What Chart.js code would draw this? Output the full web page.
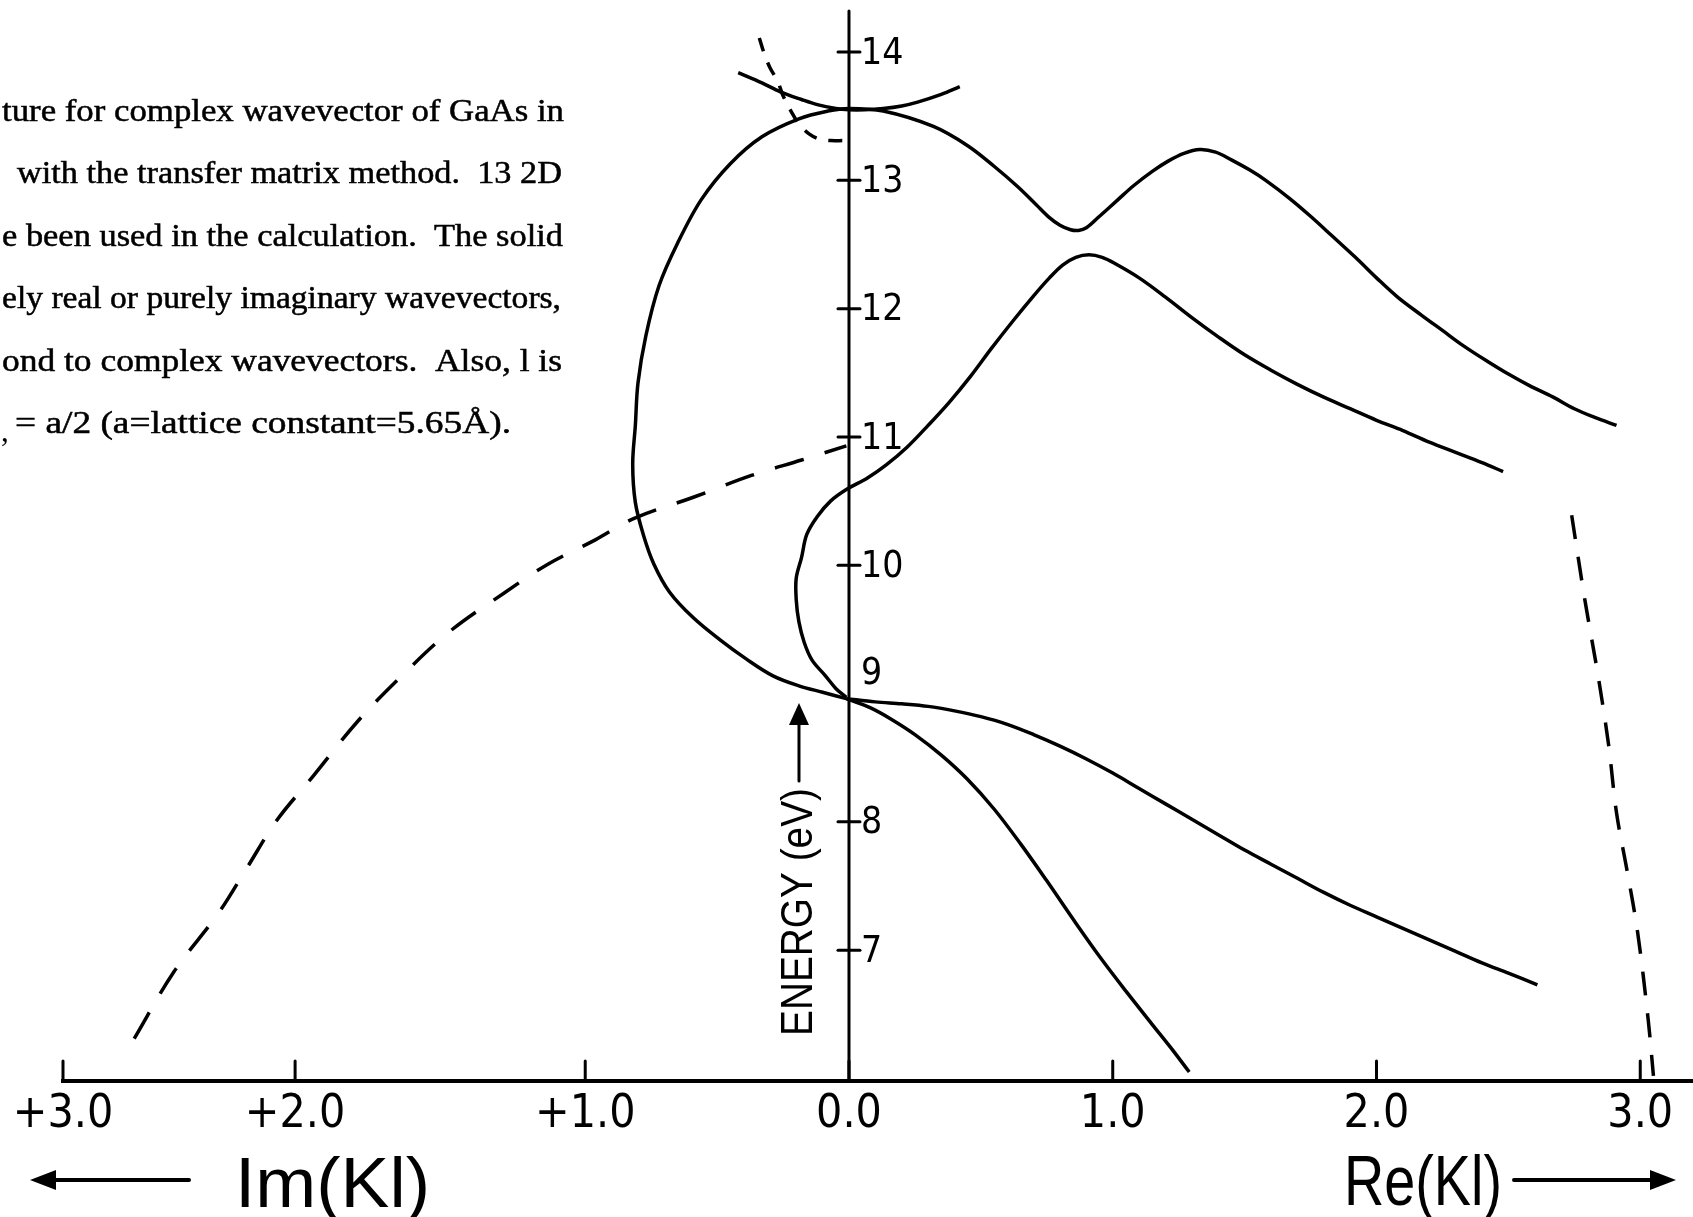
<!DOCTYPE html>
<html>
<head>
<meta charset="utf-8">
<title>Complex band structure of GaAs</title>
<script src="https://cdn.jsdelivr.net/npm/chart.js@4.4.1/dist/chart.umd.min.js"></script>
<style>
  html, body { margin: 0; padding: 0; background: #fff; }
  #wrap { width: 1693px; height: 1217px; }
</style>
</head>
<body>
<div id="wrap"><canvas id="bands" width="1693" height="1217"></canvas></div>
<script>
// --- DATOS: k en unidades de 1/l (Im a la izquierda), energia en eV ---

// lazo imaginario grande + banda real superior
const loopK = [-0.01,-0.10,-0.19,-0.29,-0.39,-0.49,-0.59,-0.68,-0.74,-0.78,-0.81,-0.82,-0.81,-0.80,-0.77,-0.72,-0.65,-0.56,-0.45,-0.33,-0.19,-0.08,0.00,0.13,0.32,0.45,0.55,0.64,0.71,0.76,0.80,0.84,0.87,0.90,0.95,1.02,1.08,1.15,1.21,1.27,1.33,1.39,1.45,1.52,1.58,1.67,1.75,1.83,1.92,2.00,2.08,2.17,2.25,2.33,2.42,2.50,2.58,2.67,2.75,2.83,2.91];
const loopE = [8.96,9.01,9.06,9.14,9.27,9.42,9.59,9.79,10.01,10.24,10.49,10.79,11.09,11.42,11.79,12.18,12.51,12.85,13.13,13.34,13.48,13.54,13.56,13.54,13.42,13.27,13.11,12.95,12.81,12.71,12.65,12.615,12.61,12.63,12.72,12.85,12.96,13.07,13.15,13.21,13.24,13.22,13.16,13.08,13.00,12.86,12.72,12.57,12.40,12.24,12.09,11.95,11.83,11.71,11.59,11.49,11.40,11.31,11.22,11.15,11.09];

// arco superior (valle en k=0)
const topK = [-0.42,-0.33,-0.26,-0.18,-0.12,-0.05,0.00,0.06,0.13,0.20,0.26,0.35,0.42];
const topE = [13.84,13.76,13.69,13.63,13.59,13.56,13.55,13.55,13.56,13.58,13.61,13.67,13.73];

// lazo pequeño + banda real intermedia
const midK = [-0.01,-0.05,-0.09,-0.14,-0.17,-0.19,-0.20,-0.20,-0.18,-0.16,-0.12,-0.07,-0.01,0.07,0.14,0.22,0.30,0.38,0.46,0.54,0.62,0.70,0.76,0.81,0.86,0.91,0.96,1.01,1.10,1.20,1.30,1.40,1.50,1.60,1.70,1.80,1.90,2.00,2.10,2.20,2.30,2.40,2.48];
const midE = [8.97,9.04,9.14,9.26,9.40,9.56,9.73,9.90,10.06,10.24,10.38,10.50,10.59,10.68,10.78,10.92,11.09,11.27,11.47,11.69,11.90,12.10,12.24,12.34,12.40,12.42,12.40,12.35,12.24,12.09,11.93,11.78,11.64,11.52,11.41,11.31,11.22,11.13,11.05,10.96,10.88,10.80,10.73];

// bandas reales por debajo de 9 eV
const lowK = [-0.01,0.10,0.20,0.30,0.40,0.50,0.60,0.70,0.80,0.90,1.00,1.10,1.20,1.30,1.40,1.50,1.60,1.70,1.80,1.90,2.00,2.10,2.20,2.30,2.40,2.50,2.61];
const lowE = [8.96,8.935,8.92,8.90,8.865,8.82,8.76,8.68,8.59,8.49,8.38,8.26,8.14,8.02,7.90,7.78,7.67,7.56,7.45,7.35,7.26,7.17,7.08,6.99,6.90,6.82,6.73];
const steepK = [-0.01,0.08,0.16,0.25,0.35,0.45,0.55,0.65,0.75,0.85,0.95,1.05,1.15,1.22,1.29];
const steepE = [8.96,8.89,8.80,8.68,8.52,8.33,8.10,7.83,7.54,7.24,6.95,6.68,6.42,6.24,6.05];

// vectores complejos (lineas a trazos)
const cplxImK = [-2.71,-2.56,-2.39,-2.28,-2.17,-2.03,-1.86,-1.69,-1.51,-1.31,-1.14,-0.96,-0.81,-0.59,-0.37,-0.18,-0.01];
const cplxImE = [6.31,6.83,7.29,7.65,8.01,8.36,8.79,9.15,9.49,9.78,10.01,10.20,10.37,10.53,10.70,10.82,10.93];
const cplxReK = [2.74,2.79,2.84,2.88,2.91,2.95,2.99,3.03,3.05];
const cplxReE = [10.39,9.73,9.14,8.60,8.07,7.62,7.14,6.46,6.02];
const cplxTopK = [-0.34,-0.32,-0.30,-0.27,-0.25,-0.22,-0.19,-0.15,-0.11,-0.07,-0.02];
const cplxTopE = [14.11,13.98,13.88,13.77,13.66,13.54,13.44,13.36,13.32,13.31,13.31];

// ejes
const kTicks = [-2.98, -2.1, -1.0, 0, 1, 2, 3];
const kTickLabels = ['+3.0', '+2.0', '+1.0', '0.0', '1.0', '2.0', '3.0'];
const eTicks = [7, 8, 9, 10, 11, 12, 13, 14];

const captionLines = [
    'ture for complex wavevector of GaAs in',
    'with the transfer matrix method.  13 2D',
    'e been used in the calculation.  The solid',
    'ely real or purely imaginary wavevectors,',
    'ond to complex wavevectors.  Also, l is',
    '= a/2 (a=lattice constant=5.65\u00C5).'
];

const NARROW = '"Liberation Sans Narrow", "DejaVu Sans Condensed", "Roboto Condensed", "Liberation Sans", sans-serif';
const SANS = '"Liberation Sans", Arial, sans-serif';
const SERIF = '"Liberation Serif", "DejaVu Serif", serif';

function zip(ks, es) {
    return ks.map((k, i) => ({ x: k, y: es[i] }));
}

function curve(ks, es, dash) {
    return {
        data: zip(ks, es),
        showLine: true,
        borderColor: '#000',
        borderWidth: 3.5,
        borderDash: dash || [],
        tension: 0.35,
        pointRadius: 0,
        fill: false
    };
}

// --- TEXTO AJUSTADO A UN ANCHO ---
function fitText(ctx, text, left, right, baseline, bold) {
    const w = ctx.measureText(text).width;
    ctx.save();
    ctx.translate(left, baseline);
    ctx.scale((right - left) / w, 1);
    ctx.textAlign = 'left';
    ctx.textBaseline = 'alphabetic';
    ctx.fillText(text, 0, 0);
    if (bold) {
        ctx.lineWidth = bold;
        ctx.strokeText(text, 0, 0);
    }
    ctx.restore();
}

function arrowHead(ctx, tipX, tipY, dx, dy, len, half) {
    // dx,dy: direccion unitaria de la flecha
    const bx = tipX - dx * len, by = tipY - dy * len;
    ctx.beginPath();
    ctx.moveTo(tipX, tipY);
    ctx.lineTo(bx - dy * half, by + dx * half);
    ctx.lineTo(bx + dy * half, by - dx * half);
    ctx.closePath();
    ctx.fill();
}

const whiteBg = {
    id: 'whiteBg',
    beforeDraw(chart) {
        const ctx = chart.ctx;
        ctx.save();
        ctx.fillStyle = '#fff';
        ctx.fillRect(0, 0, chart.width, chart.height);
        ctx.restore();
    }
};

// --- EJES, ETIQUETAS Y LEYENDA DIBUJADOS A MANO ---
const decor = {
    id: 'decor',
    afterDraw(chart) {
        const { ctx, scales: { x, y } } = chart;
        const x0 = x.getPixelForValue(0);
        const yTop = y.getPixelForValue(y.max);
        const yBot = y.getPixelForValue(y.min);
        ctx.save();
        ctx.strokeStyle = '#000';
        ctx.fillStyle = '#000';
        ctx.lineCap = 'round';

        // eje de energia
        ctx.lineWidth = 3;
        ctx.beginPath();
        ctx.moveTo(x0, yTop);
        ctx.lineTo(x0, yBot);
        ctx.stroke();

        // marcas y numeros del eje de energia
        ctx.font = '37px ' + NARROW;
        ctx.textAlign = 'left';
        ctx.textBaseline = 'middle';
        eTicks.forEach(v => {
            const py = y.getPixelForValue(v);
            if (v === 9) {
                // el 9 va desplazado hacia arriba, sin marca (cruce de curvas)
                ctx.fillText(String(v), x0 + 12, py - 19);
                return;
            }
            ctx.beginPath();
            ctx.moveTo(x0 - 11, py);
            ctx.lineTo(x0 + 11, py);
            ctx.stroke();
            ctx.fillText(String(v), x0 + 12, py + 2);
        });

        // marcas del eje k (hacia arriba)
        kTicks.forEach(v => {
            const px = x.getPixelForValue(v);
            ctx.beginPath();
            ctx.moveTo(px, yBot);
            ctx.lineTo(px, yBot - 20);
            ctx.stroke();
        });

        // ENERGY (eV) vertical + flecha
        ctx.save();
        ctx.font = '44px ' + SANS;
        ctx.translate(x0 - 37, yBot - 45);
        ctx.rotate(-Math.PI / 2);
        fitText(ctx, 'ENERGY (eV)', 0, 248, 0);
        ctx.restore();
        ctx.lineWidth = 3;
        ctx.beginPath();
        ctx.moveTo(x0 - 50, yBot - 300);
        ctx.lineTo(x0 - 50, yBot - 362);
        ctx.stroke();
        arrowHead(ctx, x0 - 50, yBot - 378, 0, -1, 22, 10);

        // Im(kl) <--      --> Re(kl)
        ctx.font = '70px ' + SANS;
        fitText(ctx, 'Im(Kl)', 235, 430, 1207);
        fitText(ctx, 'Re(Kl)', 1344, 1502, 1205);
        ctx.lineWidth = 4;
        ctx.beginPath();
        ctx.moveTo(189, 1180);
        ctx.lineTo(50, 1180);
        ctx.stroke();
        arrowHead(ctx, 30, 1180, -1, 0, 26, 10);
        ctx.beginPath();
        ctx.moveTo(1514, 1180);
        ctx.lineTo(1655, 1180);
        ctx.stroke();
        arrowHead(ctx, 1676, 1180, 1, 0, 26, 10);

        // pie de figura (recortado por la izquierda en el original)
        ctx.font = '31px ' + SERIF;
        const edges = [[2, 564], [17, 562], [2, 563], [2, 561], [2, 562], [15, 511]];
        captionLines.forEach((line, i) => {
            fitText(ctx, line, edges[i][0], edges[i][1], 121 + i * 62.4, 0.5);
        });
        ctx.fillText(',', 1, 121 + 5 * 62.4);

        ctx.restore();
    }
};

const datasets = [
    curve(loopK, loopE),
    curve(topK, topE),
    curve(midK, midE),
    curve(lowK, lowE),
    curve(steepK, steepE),
    curve(cplxImK, cplxImE, [30, 22]),
    curve(cplxReK, cplxReE, [24, 18]),
    curve(cplxTopK, cplxTopE, [14, 12])
];

console.log('[Bands] datasets:', datasets.length);

new Chart(document.getElementById('bands').getContext('2d'), {
    type: 'scatter',
    data: { datasets },
    options: {
        responsive: false,
        animation: false,
        devicePixelRatio: 1,
        layout: { padding: { left: 63, right: 0, top: 11, bottom: 0 } },
        plugins: { legend: { display: false }, tooltip: { enabled: false } },
        scales: {
            x: {
                type: 'linear',
                position: 'bottom',
                min: -2.98,
                max: 3.2,
                afterBuildTicks: axis => { axis.ticks = kTicks.map(v => ({ value: v })); },
                afterFit: axis => { axis.height = 136; },
                grid: { display: false, drawTicks: false },
                border: { display: true, color: '#000', width: 4 },
                ticks: {
                    autoSkip: false,
                    maxRotation: 0,
                    padding: 6,
                    color: '#000',
                    font: { family: NARROW, size: 46 },
                    callback: (value, index) => kTickLabels[index]
                }
            },
            y: {
                type: 'linear',
                min: 5.98,
                max: 14.32,
                display: false
            }
        }
    },
    plugins: [whiteBg, decor]
});
</script>
</body>
</html>
